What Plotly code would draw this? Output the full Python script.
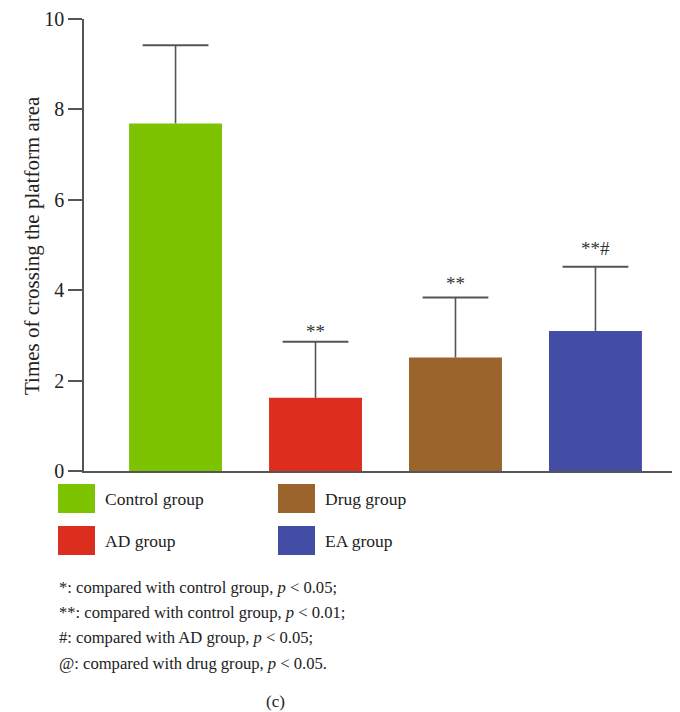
import plotly.graph_objects as go

categories = ["Control group", "AD group", "Drug group", "EA group"]
means = [7.69, 1.62, 2.51, 3.10]
sd_upper = [1.73, 1.24, 1.33, 1.42]
sig_labels = ["", "**", "**", "**#"]
colors = ["#7DC300", "#DC2E1E", "#9A642C", "#444DA6"]
y_ticks = [0, 2, 4, 6, 8, 10]
footnotes = [
    "*: compared with control group, <i>p</i> &lt; 0.05;",
    "**: compared with control group, <i>p</i> &lt; 0.01;",
    "#: compared with AD group, <i>p</i> &lt; 0.05;",
    "@: compared with drug group, <i>p</i> &lt; 0.05.",
]
y_title = "Times of crossing the platform area"
caption = "(c)"

# style: vertical pixel gap between cap and significance label
label_gap = [0, 14, 18, 22]

OFF = 8  # default page body margin
W, H = 680 - OFF, 712 - OFF
L, R, T, B = 84 - OFF, 0, 19 - OFF, 712 - 471
PW, PH = W - L - R, H - T - B
FONT = "Liberation Serif"
TXT = "#222222"
AX = "#555555"

def px(x):
    return (x - OFF - L) / PW

def py(y):
    return (H - B - (y - OFF)) / PH

xs = list(range(len(categories)))
tops = [m + s for m, s in zip(means, sd_upper)]

fig = go.Figure()
fig.add_trace(go.Bar(
    x=xs, y=means,
    marker=dict(color=colors, line=dict(width=0)),
    width=0.664,
    error_y=dict(type="data", array=sd_upper, arrayminus=[0] * len(means),
                 symmetric=False, color=AX, thickness=1.6, width=0),
    showlegend=False, hoverinfo="skip",
))
# error-bar caps (top only)
fig.add_trace(go.Scatter(
    x=xs, y=tops, mode="markers",
    marker=dict(symbol="line-ew", size=47, line=dict(color=AX, width=2)),
    showlegend=False, hoverinfo="skip", cliponaxis=False,
))

annotations = []
for i, (t, lab, g) in enumerate(zip(tops, sig_labels, label_gap)):
    if lab:
        annotations.append(dict(x=i, y=t, xref="x", yref="y", text=lab,
                                showarrow=False, yanchor="middle", yshift=g - 4,
                                font=dict(family=FONT, size=19, color="#333333")))

# y-axis title
annotations.append(dict(x=px(18), y=py(246), xref="paper", yref="paper",
                        text=y_title, textangle=-90, showarrow=False,
                        font=dict(family=FONT, size=21, color=TXT)))

# legend (2x2 grid)
shapes = []
leg_pos = [(58, 484), (58, 526), (278, 484), (278, 526)]
for (lx, ly), cat, col in zip(leg_pos, categories, colors):
    shapes.append(dict(type="rect", xref="paper", yref="paper",
                       x0=px(lx), x1=px(lx + 37), y0=py(ly), y1=py(ly + 29),
                       fillcolor=col, line=dict(width=0)))
    annotations.append(dict(x=px(lx + 45), y=py(ly + 14.5), xref="paper", yref="paper",
                            text=cat, showarrow=False, xanchor="left", yanchor="middle",
                            font=dict(family=FONT, size=17.5, color=TXT)))

foot_y = [587, 612, 637, 663]
for t, fy in zip(footnotes, foot_y):
    annotations.append(dict(x=px(57), y=py(fy), xref="paper", yref="paper",
                            text=t, showarrow=False, xanchor="left", yanchor="middle",
                            font=dict(family=FONT, size=16.6, color=TXT)))

annotations.append(dict(x=px(275), y=py(701), xref="paper", yref="paper",
                        text=caption, showarrow=False, xanchor="center", yanchor="middle",
                        font=dict(family=FONT, size=17, color=TXT)))

fig.update_layout(
    width=W, height=H,
    margin=dict(l=L, r=R, t=T, b=B, pad=0),
    paper_bgcolor="white", plot_bgcolor="white",
    xaxis=dict(range=[-0.654, 3.604], showticklabels=False, ticks="",
               showgrid=False, zeroline=False, showline=True,
               linecolor=AX, linewidth=2),
    yaxis=dict(range=[0, 10], tickvals=y_ticks, ticks="outside", ticklen=14,
               tickwidth=1.5, tickcolor=AX, showgrid=False, zeroline=False,
               showline=True, linecolor=AX, linewidth=1.5,
               tickfont=dict(family=FONT, size=20, color=TXT)),
    annotations=annotations, shapes=shapes,
    font=dict(family=FONT),
)

fig.write_html("out.html")
